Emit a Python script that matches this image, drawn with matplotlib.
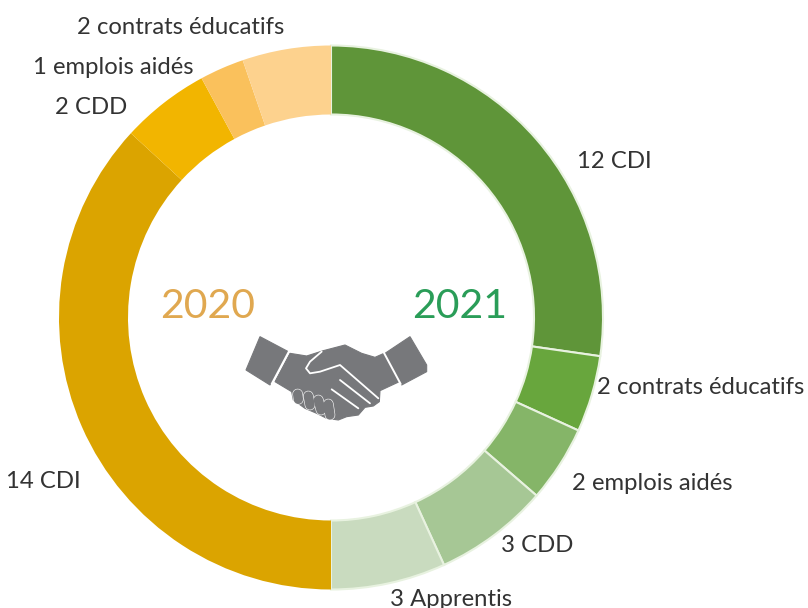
import matplotlib.pyplot as plt
from matplotlib.patches import Polygon
from matplotlib import font_manager as fm

# graisse Lato la plus proche du texte d'origine
installed = {f.name for f in fm.fontManager.ttflist}
font_list = [n for n in ['Lato Light', 'Lato Medium', 'Lato'] if n in installed][:1] + ['DejaVu Sans']
plt.rcParams['font.family'] = font_list

# moitie droite 2021, moitie gauche 2020
values_2021 = [12, 2, 2, 3, 3]
labels_2021 = ['12 CDI', '2 contrats éducatifs', '2 emplois aidés', '3 CDD', '3 Apprentis']
colors_2021 = ['#5f9539', '#68a63d', '#85b568', '#a6c795', '#c9dbbf']

values_2020 = [14, 2, 1, 2]
labels_2020 = ['14 CDI', '2 CDD', '1 emplois aidés', '2 contrats éducatifs']
colors_2020 = ['#dba400', '#f2b500', '#fac15c', '#fdd28e']

W, H = 808, 608
CX, CY = 331, 317.5
R = 272
RING = 69


def py(y):
    return H - y


fig = plt.figure(figsize=(W / 100, H / 100), dpi=100)
ax = fig.add_axes([0, 0, 1, 1])

# une part cachee pour que chaque annee remplisse une demi couronne
w1, _ = ax.pie(values_2021 + [sum(values_2021)], colors=colors_2021 + ['white'],
               startangle=90, counterclock=False, radius=R, center=(CX, py(CY)), frame=True,
               wedgeprops=dict(width=RING, edgecolor='#e8f2e0', linewidth=1.5))
w1[-1].set_visible(False)
w2, _ = ax.pie(values_2020 + [sum(values_2020)], colors=colors_2020 + ['white'],
               startangle=270, counterclock=False, radius=R, center=(CX, py(CY)), frame=True,
               wedgeprops=dict(width=RING, linewidth=0))
w2[-1].set_visible(False)

ax.set_xlim(0, W)
ax.set_ylim(0, H)
ax.set_aspect('equal')
ax.axis('off')

# etiquettes (centre du texte en pixels de l'image)
pos_2021 = [(614, 162), (701, 387), (652, 483), (537, 546), (451, 599)]
pos_2020 = [(43, 482), (91, 108), (113, 68), (181, 28)]
for lab, (x, y) in zip(labels_2021 + labels_2020, pos_2021 + pos_2020):
    ax.text(x, py(y), lab, fontsize=17.2, color='#333333', ha='center', va='center')

ax.text(208, py(306), '2020', fontsize=29.5, color='#e0a850', ha='center', va='center')
ax.text(460, py(306), '2021', fontsize=29.5, color='#2a9d58', ha='center', va='center')

# poignee de main
GRAY = '#77787b'


def hs(pts):
    return [(230 + x / 3, py(320 + y / 3)) for x, y in pts]


def stroke(pts, color, lw, z):
    xs, ys = zip(*hs(pts))
    ax.plot(xs, ys, color=color, lw=lw, zorder=z, solid_capstyle='round', solid_joinstyle='round')


cuff_l = [(90, 50), (175, 95), (120, 195), (48, 150)]
cuff_r = [(465, 100), (540, 50), (590, 135), (590, 155), (515, 195)]
body = [(135, 185), (180, 100), (230, 108), (280, 92), (345, 75), (395, 100), (435, 112), (462, 100),
        (508, 185), (450, 212), (448, 245), (430, 258), (405, 262), (385, 285), (350, 290),
        (325, 300), (290, 295), (260, 280), (225, 265), (190, 240), (185, 215)]
for p in (cuff_l, cuff_r, body):
    ax.add_patch(Polygon(hs(p), closed=True, fc=GRAY, ec=GRAY, lw=0.8, zorder=3))

# espaces blancs entre poignets et mains
stroke([(178, 92), (125, 192)], 'white', 1.4, 4)
stroke([(460, 95), (512, 192)], 'white', 1.4, 4)

stroke([(275, 95), (240, 125), (228, 145), (240, 160), (270, 155), (330, 135), (445, 235)], 'white', 1.3, 4)
stroke([(330, 180), (420, 250)], 'white', 1.3, 4)
stroke([(305, 208), (385, 265)], 'white', 1.3, 4)

# doigts
for seg in ([(203, 222), (205, 238)], [(235, 228), (240, 255)], [(265, 240), (273, 270)], [(295, 252), (300, 285)]):
    stroke(seg, 'white', 7.6, 4)
    stroke(seg, GRAY, 6.8, 5)

fig.savefig('out.png', dpi=100, facecolor='white')
